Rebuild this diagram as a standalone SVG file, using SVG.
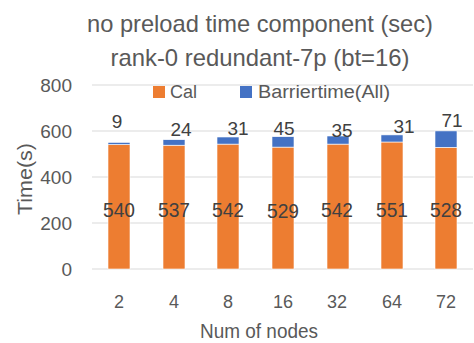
<svg xmlns="http://www.w3.org/2000/svg" width="474" height="343" viewBox="0 0 474 343">
<style>
text{font-family:"Liberation Sans",Arial,sans-serif;fill:#595959}
.grid{stroke:#D9D9D9;stroke-width:1}
.cal{fill:#ED7D31;stroke:#fff;stroke-width:0.6}
.bar{fill:#4472C4;stroke:#fff;stroke-width:0.6}
.tick{font-size:19px;text-anchor:end}
.xl{font-size:18px;text-anchor:middle}
.vl{font-size:20px;text-anchor:middle;fill:#404040}
.tl{font-size:19px;text-anchor:middle;fill:#404040}
</style>
<rect width="474" height="343" fill="#fff"/>
<g id="title">
<text x="260" y="32" font-size="24" text-anchor="middle" textLength="346" lengthAdjust="spacingAndGlyphs">no preload time component (sec)</text>
<text x="260" y="66" font-size="24" text-anchor="middle" textLength="299" lengthAdjust="spacingAndGlyphs">rank-0 redundant-7p (bt=16)</text>
</g>
<g id="gridlines">
<line class="grid" x1="92" y1="85" x2="473" y2="85"/>
<line class="grid" x1="92" y1="131" x2="473" y2="131"/>
<line class="grid" x1="92" y1="177" x2="473" y2="177"/>
<line class="grid" x1="92" y1="223" x2="473" y2="223"/>
<line class="grid" x1="92" y1="269" x2="473" y2="269"/>
</g>
<g id="y-axis">
<text class="tick" x="72" y="92">800</text>
<text class="tick" x="72" y="138">600</text>
<text class="tick" x="72" y="184">400</text>
<text class="tick" x="72" y="230">200</text>
<text class="tick" x="72" y="276">0</text>
<text x="32" y="179" font-size="20" text-anchor="middle" transform="rotate(-90 32 179)" textLength="72" lengthAdjust="spacingAndGlyphs">Time(s)</text>
</g>
<g id="legend">
<rect x="153" y="86" width="12" height="12" fill="#ED7D31"/>
<text x="170" y="98" font-size="18" textLength="27" lengthAdjust="spacingAndGlyphs">Cal</text>
<rect x="240" y="86" width="12" height="12" fill="#4472C4"/>
<text x="258" y="98" font-size="18" textLength="132" lengthAdjust="spacingAndGlyphs">Barriertime(All)</text>
</g>
<g id="bar-2">
<rect class="cal" x="108" y="144.5" width="22" height="124.5"/>
<rect class="bar" x="108" y="142.4" width="22" height="2.1"/>
<text class="vl" x="119" y="217" textLength="32" lengthAdjust="spacingAndGlyphs">540</text>
<text class="tl" x="117" y="128">9</text>
</g>
<g id="bar-4">
<rect class="cal" x="163" y="145.2" width="22" height="123.8"/>
<rect class="bar" x="163" y="139.7" width="22" height="5.5"/>
<text class="vl" x="174" y="217" textLength="32" lengthAdjust="spacingAndGlyphs">537</text>
<text class="tl" x="181" y="136">24</text>
</g>
<g id="bar-8">
<rect class="cal" x="217" y="144.1" width="22" height="124.9"/>
<rect class="bar" x="217" y="137" width="22" height="7.1"/>
<text class="vl" x="228" y="217" textLength="32" lengthAdjust="spacingAndGlyphs">542</text>
<text class="tl" x="238" y="135">31</text>
</g>
<g id="bar-16">
<rect class="cal" x="272" y="147.1" width="22" height="121.9"/>
<rect class="bar" x="272" y="136.7" width="22" height="10.4"/>
<text class="vl" x="283" y="218" textLength="32" lengthAdjust="spacingAndGlyphs">529</text>
<text class="tl" x="284" y="135">45</text>
</g>
<g id="bar-32">
<rect class="cal" x="327" y="144.1" width="22" height="124.9"/>
<rect class="bar" x="327" y="136" width="22" height="8.1"/>
<text class="vl" x="337" y="217" textLength="32" lengthAdjust="spacingAndGlyphs">542</text>
<text class="tl" x="342" y="137">35</text>
</g>
<g id="bar-64">
<rect class="cal" x="381" y="142" width="22" height="127"/>
<rect class="bar" x="381" y="134.9" width="22" height="7.1"/>
<text class="vl" x="392" y="217" textLength="32" lengthAdjust="spacingAndGlyphs">551</text>
<text class="tl" x="404" y="133">31</text>
</g>
<g id="bar-72">
<rect class="cal" x="435" y="147.3" width="22" height="121.7"/>
<rect class="bar" x="435" y="130.9" width="22" height="16.4"/>
<text class="vl" x="446" y="217" textLength="32" lengthAdjust="spacingAndGlyphs">528</text>
<text class="tl" x="452" y="127">71</text>
</g>
<g id="x-axis">
<text class="xl" x="119" y="308">2</text>
<text class="xl" x="174" y="308">4</text>
<text class="xl" x="228" y="308">8</text>
<text class="xl" x="283" y="308">16</text>
<text class="xl" x="337" y="308">32</text>
<text class="xl" x="392" y="308">64</text>
<text class="xl" x="446" y="308">72</text>
<text x="259" y="338" font-size="20" text-anchor="middle" textLength="118" lengthAdjust="spacingAndGlyphs">Num of nodes</text>
</g>
</svg>
